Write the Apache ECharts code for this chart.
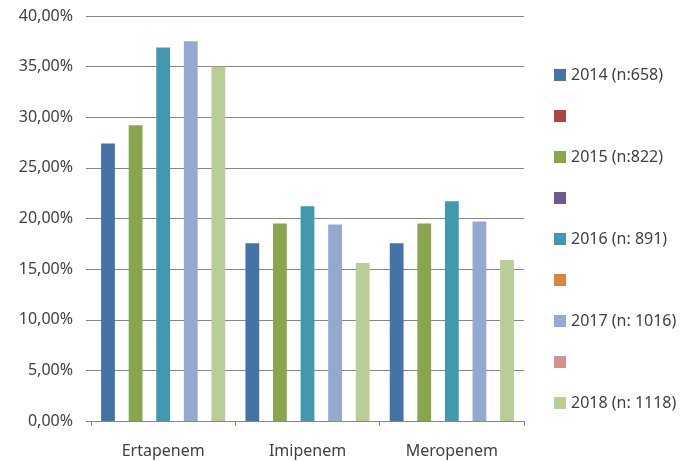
<!DOCTYPE html>
<html>
<head>
<meta charset="utf-8">
<script src="https://cdn.jsdelivr.net/npm/echarts@6/dist/echarts.min.js"></script>
<style>
  html, body { margin: 0; padding: 0; background: #fff; }
  #chart { width: 687px; height: 461px; }
</style>
</head>
<body>
<div id="chart"></div>
<script>
// categorias
var categories = ['Ertapenem', 'Imipenem', 'Meropenem'];

// series (porcentaje)
var y2014 = [27.4, 17.55, 17.55];
var y2015 = [29.2, 19.5, 19.5];
var y2016 = [36.9, 21.2, 21.7];
var y2017 = [37.5, 19.4, 19.7];
var y2018 = [35.0, 15.6, 15.9];
var empty = [null, null, null];

var seriesNames = ['2014 (n:658)', 'blank1', '2015 (n:822)', 'blank2', '2016 (n: 891)',
                   'blank3', '2017 (n: 1016)', 'blank4', '2018 (n: 1118)'];
var seriesData = [y2014, empty, y2015, empty, y2016, empty, y2017, empty, y2018];
var colors = ['#4572A7', '#AA4643', '#89A54E', '#71588F', '#4198AF',
              '#DB843D', '#93A9CF', '#D19392', '#B9CD96'];

var yTicks = { min: 0, max: 40, interval: 5 };

var font = 'Noto Sans';
var textColor = '#404040';
var gridColor = '#878787';

var series = seriesNames.map(function (name, i) {
    return {
        name: name,
        type: 'bar',
        data: seriesData[i],
        barGap: '0%',
        barCategoryGap: '14%',
        itemStyle: { color: colors[i] }
    };
});

var option = {
    animation: false,
    color: colors,
    grid: {
        left: 91,
        right: 163,
        top: 16,
        bottom: 40
    },
    legend: {
        orient: 'vertical',
        left: 549,
        top: 62,
        itemWidth: 12,
        itemHeight: 12,
        itemGap: 27,
        icon: 'rect',
        data: seriesNames,
        formatter: function (name) {
            return name.indexOf('blank') === 0 ? '' : name;
        },
        textStyle: { fontFamily: font, fontSize: 16, color: textColor }
    },
    xAxis: {
        type: 'category',
        data: categories,
        axisLine: { lineStyle: { color: gridColor, width: 1 } },
        axisTick: { show: true, length: 5, lineStyle: { color: gridColor } },
        axisLabel: { fontFamily: font, fontSize: 16, color: textColor, margin: 22 }
    },
    yAxis: {
        type: 'value',
        min: yTicks.min,
        max: yTicks.max,
        interval: yTicks.interval,
        axisLine: { show: false },
        axisTick: { show: true, length: 5, lineStyle: { color: gridColor } },
        splitLine: { lineStyle: { color: gridColor, width: 1 } },
        axisLabel: {
            fontFamily: font,
            fontSize: 16,
            color: textColor,
            margin: 18,
            padding: [3, 0, 0, 0],
            formatter: function (v) {
                return v.toFixed(2).replace('.', ',') + '%';
            }
        }
    },
    series: series
};

var chart = echarts.init(document.getElementById('chart'));
chart.setOption(option);
</script>
</body>
</html>
